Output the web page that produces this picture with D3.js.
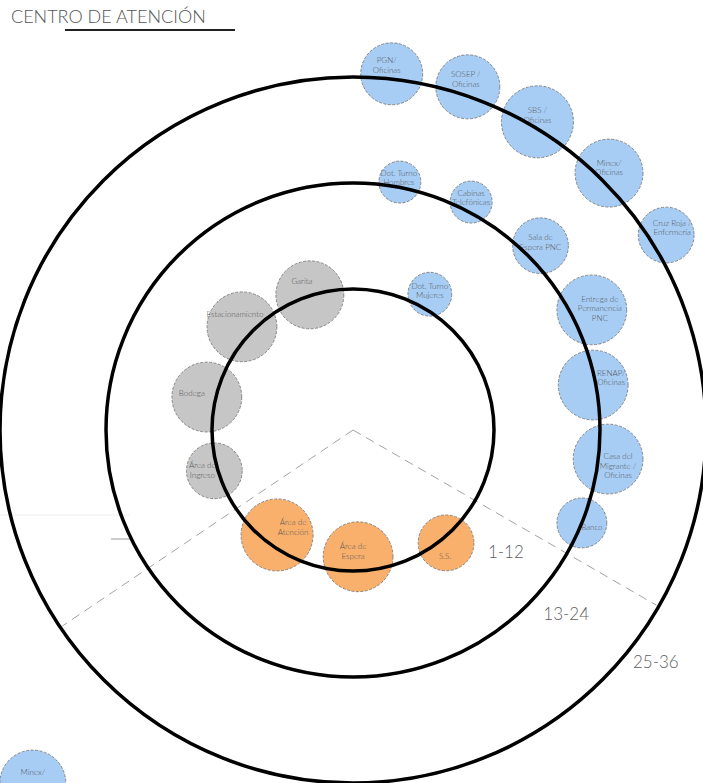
<!DOCTYPE html>
<html>
<head>
<meta charset="utf-8">
<script src="https://cdn.jsdelivr.net/npm/d3@7"></script>
<style>
  body { margin: 0; background: #fff; }
  svg { display: block; font-family: "Lato", "Open Sans", sans-serif; }
  .ring { fill: none; stroke: #000; stroke-width: 3.5; }
  .bubble { stroke: #6f6f6f; stroke-width: 0.8; stroke-dasharray: 3,1.5; }
  .blabel { fill: #555; font-size: 8px; font-weight: 300; text-anchor: middle; }
  .rlabel { fill: #5f5f5f; font-size: 17px; font-weight: 300; }
</style>
</head>
<body>
<div id="container"></div>
<script>
/* rings (months) and their labels */
var rings = [12, 24, 36]
var ringLabels = ["1-12", "13-24", "25-36"]

/* bubbles: label, category, angle (deg, clockwise from top), ring position (months), size */
var names = ["PGN/\nOficinas", "SOSEP /\nOficinas", "SBS /\nOficinas", "Minex/\nOficinas", "Cruz Roja /\nEnfermería",
             "Dot. Turno\nHombres", "Cabinas\nTelefónicas", "Sala de\nEspera PNC", "Dot. Turno\nMujeres",
             "Entrega de\nPermanencia\nPNC", "RENAP/\nOficinas", "Casa del\nMigrante /\nOficinas", "Banco", "Minex/",
             "Garita", "Estacionamiento", "Bodega", "Área de\nIngreso",
             "Área de\nAtención", "Área de\nEspera", "S.S."]
var category = ["ext","ext","ext","ext","ext",
                "ext","ext","ext","ext",
                "ext","ext","ext","ext","ext",
                "serv","serv","serv","serv",
                "main","main","main"]
var angle = [6.2, 18.5, 30.9, 44.9, 58.1,
             10.7, 27.4, 45.5, 29.5,
             63.3, 79.4, 96.5, 112.1, 222.2,
             -17.7, -47.1, -77.3, -106.4,
             -144.1, 177.7, 140.5]
var ringPos = [36.6, 37.0, 36.7, 37.1, 37.8,
               24.6, 25.1, 25.8, 13.7,
               26.3, 23.7, 25.1, 24.0, 50.0,
               12.1, 13.2, 13.0, 12.4,
               10.7, 10.4, 12.6]
var size = [74, 79, 100, 89, 60,
            34, 34, 60, 37,
            94, 94, 94, 48, 84,
            89, 94, 94, 60,
            100, 94, 60]

/* hand placed label nudges inside each bubble (layout only) */
var nudgeX = [-5, -2, 0, 0, 6,
              -1, 0, 0, 0,
              8, 18, 10, 10, 0,
              -8, -7, -15, -12,
              16, -5, -1]
var nudgeY = [-5, -4, -3, -2, -4,
              -1, -1, 0, 0,
              2, -4, 10, 8, 0,
              -10, -9, 0, 3,
              -4, -2, 17]

var width = 703, height = 783
var cx = 353, cy = 430

var svg = d3.select("#container")
            .append("svg")
            .attr("width", width)
            .attr("height", height)

var rScale = d3.scaleLinear().domain([0, 36]).range([35, 353])
var aScale = d3.scaleLinear().domain([0, 360]).range([0, 2 * Math.PI])
var sScale = d3.scaleSqrt().domain([0, 100]).range([0, 36])
var color = d3.scaleOrdinal().domain(["ext", "serv", "main"]).range(["#a7cdf5", "#c6c6c6", "#f9b06c"])

function px(a, r) { return cx + rScale(r) * Math.sin(aScale(a)) }
function py(a, r) { return cy - rScale(r) * Math.cos(aScale(a)) }

/* title */
svg.append("text")
   .attr("x", 11).attr("y", 23)
   .attr("fill", "#555").attr("font-size", 18).attr("font-weight", 300)
   .text("CENTRO DE ATENCIÓN")
svg.append("line")
   .attr("x1", 65).attr("x2", 235).attr("y1", 30).attr("y2", 30)
   .attr("stroke", "#222").attr("stroke-width", 1.8)

/* faint guide marks */
svg.append("line").attr("x1", 0).attr("x2", 130).attr("y1", 515).attr("y2", 515)
   .attr("stroke", "#eee").attr("stroke-width", 1)
svg.append("line").attr("x1", 111).attr("x2", 130).attr("y1", 539).attr("y2", 539)
   .attr("stroke", "#999").attr("stroke-width", 1)

/* sector lines */
var sectors = [-124, 120]
svg.selectAll(".sector")
   .data(sectors)
   .enter().append("line")
     .attr("class", "sector")
     .attr("x1", cx).attr("y1", cy)
     .attr("x2", function(d) { return px(d, 35.7) })
     .attr("y2", function(d) { return py(d, 35.7) })
     .attr("stroke", "#999").attr("stroke-width", 0.9)
     .attr("stroke-dasharray", "9,6")

var idx = d3.range(names.length)

svg.selectAll(".bubble")
   .data(idx)
   .enter().append("circle")
     .attr("class", "bubble")
     .attr("cx", function(i) { return px(angle[i], ringPos[i]) })
     .attr("cy", function(i) { return py(angle[i], ringPos[i]) })
     .attr("r", function(i) { return sScale(size[i]) })
     .attr("fill", function(i) { return color(category[i]) })

svg.selectAll(".blabel")
   .data(idx)
   .enter().append("text")
     .attr("class", "blabel")
     .each(function(i) {
       var lines = names[i].split("\n")
       var x = px(angle[i], ringPos[i]) + nudgeX[i]
       var y = py(angle[i], ringPos[i]) - (lines.length - 1) * 4.5 - 1 + nudgeY[i]
       y = Math.min(y, height - 8)   // keep partly hidden bubble text on the page
       var t = d3.select(this)
       lines.forEach(function(l, k) {
         t.append("tspan").attr("x", x).attr("y", y + k * 9.5).text(l)
       })
     })

svg.selectAll(".ring")
   .data(rings)
   .enter().append("circle")
     .attr("class", "ring")
     .attr("cx", cx).attr("cy", cy)
     .attr("r", function(d) { return rScale(d) })

/* ring labels placed along the lower-right sector */
var labelAngle = [133.5, 135, 130.4]
var labelShift = [5.1, 2.5, 1.65]
svg.selectAll(".rlabel")
   .data(rings)
   .enter().append("text")
     .attr("class", "rlabel")
     .attr("x", function(d, i) { return px(labelAngle[i], d + labelShift[i]) })
     .attr("y", function(d, i) { return py(labelAngle[i], d + labelShift[i]) })
     .text(function(d, i) { return ringLabels[i] })
</script>
</body>
</html>
